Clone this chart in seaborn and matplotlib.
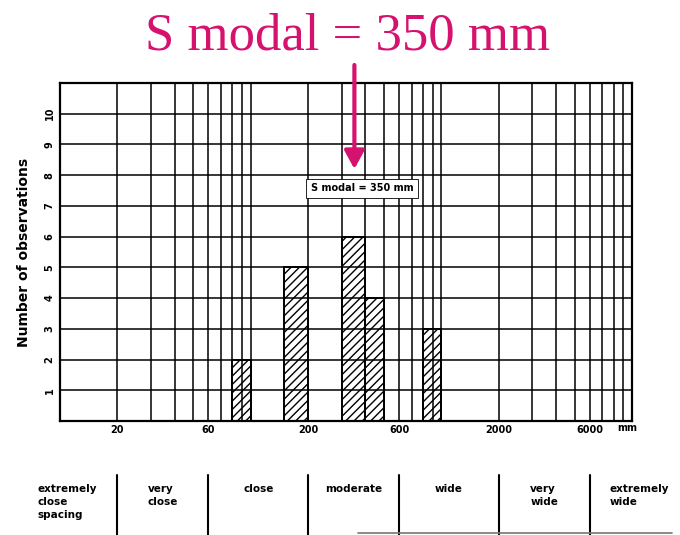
import numpy as np
import pandas as pd
import matplotlib
matplotlib.use("Agg")
import matplotlib.pyplot as plt
from matplotlib.lines import Line2D
from matplotlib.ticker import FixedLocator, FixedFormatter, LogLocator, NullFormatter
import seaborn as sns

# Discontinuity spacing classes (mm) and number of observations in each
class_lo = [80, 150, 300, 400, 800]
class_hi = [100, 200, 400, 500, 1000]
counts = [2, 5, 6, 4, 3]

# Axis ticks
x_ticks = [20, 60, 200, 600, 2000, 6000]
x_tick_labels = ["20", "60", "200", "600", "2000", "6000"]
y_ticks = [1, 2, 3, 4, 5, 6, 7, 8, 9, 10]

# Modal spacing
modal_spacing = 350
modal_text = "S modal = 350 mm"

# Spacing description terms and the class boundaries between them (mm)
spacing_terms = ["extremely\nclose\nspacing", "very\nclose", "close", "moderate",
                 "wide", "very\nwide", "extremely\nwide"]
term_bounds = [6, 20, 60, 200, 600, 2000, 6000, 20000]

MAGENTA = "#D5136E"

sns.set_style("white")
plt.rcParams["hatch.linewidth"] = 1.0
plt.rcParams["font.family"] = ["DejaVu Sans"]
plt.rcParams["text.color"] = "black"
plt.rcParams["axes.labelcolor"] = "black"

W, H = 680, 535
fig = plt.figure(figsize=(W / 100, H / 100), dpi=100)
ax = fig.add_axes([60 / W, 1 - 421 / H, 572 / W, 338 / H])

# Hatched histogram bars, one class at a time
for lo, hi, n in zip(class_lo, class_hi, counts):
    df = pd.DataFrame({"spacing": [float(np.sqrt(lo * hi))], "n": [float(n)]})
    edges = [float(np.log10(lo)), float(np.log10(hi))]
    sns.histplot(data=df, x="spacing", weights="n", bins=edges,
                 log_scale=True, ax=ax, stat="count", element="bars",
                 facecolor="white", edgecolor="black", linewidth=1.4,
                 hatch="////", alpha=1, zorder=1)

ax.set_xscale("log")
ax.set_xlim(10, 10000)
ax.set_ylim(0, 11)

ax.xaxis.set_major_locator(FixedLocator(x_ticks))
ax.xaxis.set_major_formatter(FixedFormatter(x_tick_labels))
ax.xaxis.set_minor_locator(LogLocator(base=10, subs=np.arange(1, 10), numticks=40))
ax.xaxis.set_minor_formatter(NullFormatter())
ax.set_yticks(y_ticks)
ax.set_yticklabels([str(v) for v in y_ticks], rotation=90, va="center")

ax.tick_params(axis="x", which="both", length=0, pad=3)
ax.tick_params(axis="y", which="major", length=3, width=1.2, direction="out",
               pad=1, color="black")
for lab in ax.get_xticklabels() + ax.get_yticklabels():
    lab.set_fontweight("bold")
    lab.set_fontsize(7)
    lab.set_color("black")

ax.set_axisbelow(False)
ax.grid(True, which="both", axis="x", color="black", linewidth=1.1)
ax.grid(True, which="major", axis="y", color="black", linewidth=1.1)
for sp in ax.spines.values():
    sp.set_visible(True)
    sp.set_color("black")
    sp.set_linewidth(1.6)

ax.set_xlabel("")
ax.set_ylabel("Number of observations", fontsize=10, fontweight="bold",
              labelpad=10, color="black")

# Unit label at the end of the x axis
ax.text(0.991, -0.022, "mm", transform=ax.transAxes, fontsize=7,
        fontweight="bold", ha="center", va="center", color="black")

# Modal value label inside the grid
ax.text(383, 7.57, modal_text, fontsize=7, fontweight="bold", ha="center",
        va="center", zorder=5, color="black",
        bbox=dict(boxstyle="square,pad=0.5", facecolor="white",
                  edgecolor="black", linewidth=0.6))

# Heading and arrow pointing at the modal spacing
fig.text(348 / W, 1 - 50 / H, modal_text, fontfamily="Liberation Serif",
         fontsize=38, color=MAGENTA, ha="center", va="baseline")
ax.annotate("", xy=(modal_spacing, 8.2), xycoords="data",
            xytext=(modal_spacing, 1 - 65 / H),
            textcoords=("data", "figure fraction"),
            arrowprops=dict(arrowstyle="-|>,head_length=0.55,head_width=0.3",
                            mutation_scale=20, lw=3, color=MAGENTA,
                            shrinkA=0, shrinkB=0),
            annotation_clip=False, zorder=6)

# Spacing description band under the chart
bx = fig.add_axes([60 / W, 0, 572 / W, 60 / H], sharex=ax)
bx.set_ylim(0, 1)
bx.axis("off")
for b in term_bounds[1:-1]:
    bx.axvline(b, ymin=0, ymax=1, color="black", linewidth=1.5, clip_on=False)
for term, lo, hi in zip(spacing_terms, term_bounds[:-1], term_bounds[1:]):
    bx.text(np.sqrt(lo * hi), 0.85, term, fontsize=7.5, fontweight="bold",
            ha="center", va="top", multialignment="left", linespacing=1.4,
            clip_on=False, color="black")
fig.add_artist(Line2D([358 / W, 672 / W], [2.5 / H, 2.5 / H], color="#777777",
                      linewidth=1.2))

fig.savefig("out.png", dpi=100)
